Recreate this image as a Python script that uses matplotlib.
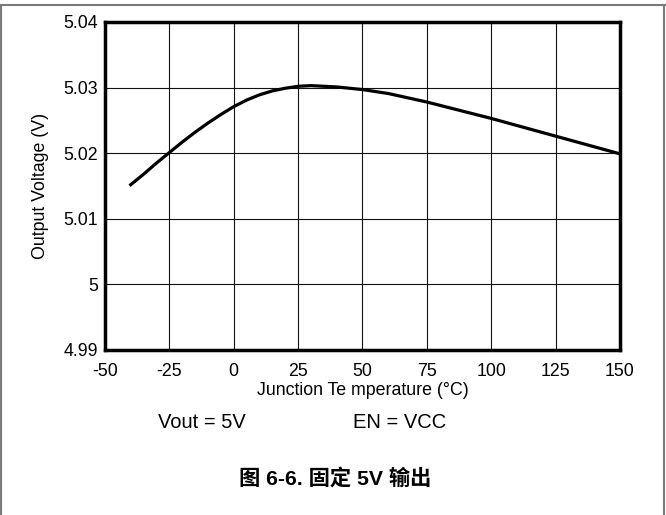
import matplotlib
matplotlib.use('Agg')
import matplotlib.pyplot as plt
from matplotlib.lines import Line2D

plt.rcParams['font.family'] = ['Liberation Sans', 'Noto Sans CJK SC', 'DejaVu Sans']

# data
temp_c = [-40, -35, -30, -25, -20, -15, -10, -5, 0, 5, 10, 15, 20, 25, 30, 35,
          40, 50, 60, 75, 100, 125, 150]
vout = [5.0152, 5.0168, 5.0185, 5.0201, 5.0217, 5.0232, 5.0246, 5.0259, 5.0271,
        5.0281, 5.0289, 5.0295, 5.0299, 5.0302, 5.0303, 5.0302, 5.0301, 5.0297,
        5.0291, 5.0278, 5.0253, 5.0226, 5.0199]

x_ticks = [-50, -25, 0, 25, 50, 75, 100, 125, 150]
y_ticks = [4.99, 5.00, 5.01, 5.02, 5.03, 5.04]
y_tick_labels = ['4.99', '5', '5.01', '5.02', '5.03', '5.04']

W, H = 666, 515
fig = plt.figure(figsize=(W / 100, H / 100), dpi=100)
ax = fig.add_axes([105 / W, (H - 350) / H, 515 / W, 328 / H])

ax.plot(temp_c, vout, color='black', linewidth=2.3, zorder=3)

ax.set_xlim(-50, 150)
ax.set_ylim(4.99, 5.04)
ax.set_xticks(x_ticks)
ax.set_xticklabels([str(t) for t in x_ticks])
ax.set_yticks(y_ticks)
ax.set_yticklabels(y_tick_labels)
ax.tick_params(axis='both', length=0, labelsize=12.8, colors='black')
ax.tick_params(axis='x', pad=9.5)
ax.tick_params(axis='y', pad=5)
ax.grid(True, color='#111111', linewidth=0.8)
for spine in ax.spines.values():
    spine.set_linewidth(2.5)
    spine.set_color('black')

ax.set_xlabel('Junction Te mperature (°C)', fontsize=12.8, labelpad=1.5)
ax.set_ylabel('Output Voltage (V)', fontsize=12.8, labelpad=10.5)

fig.text(158 / W, 1 - 422 / H, 'Vout = 5V', fontsize=14.5, va='center', ha='left')
fig.text(353 / W, 1 - 422 / H, 'EN = VCC', fontsize=14.5, va='center', ha='left')
fig.text(335.5 / W, 1 - 478 / H, '图 6-6. 固定 5V 输出', fontsize=15.3, fontweight='bold',
         va='center', ha='center')

# outer frame (top, left, right)
for xs, ys in [([0, 1], [1 - 5 / H] * 2), ([1 / W] * 2, [0, 1 - 5 / H]),
               ([1 - 2 / W] * 2, [0, 1 - 5 / H])]:
    fig.add_artist(Line2D(xs, ys, color='#7a7a7a', linewidth=1.5,
                          transform=fig.transFigure))

fig.savefig('out.png', dpi=100)
